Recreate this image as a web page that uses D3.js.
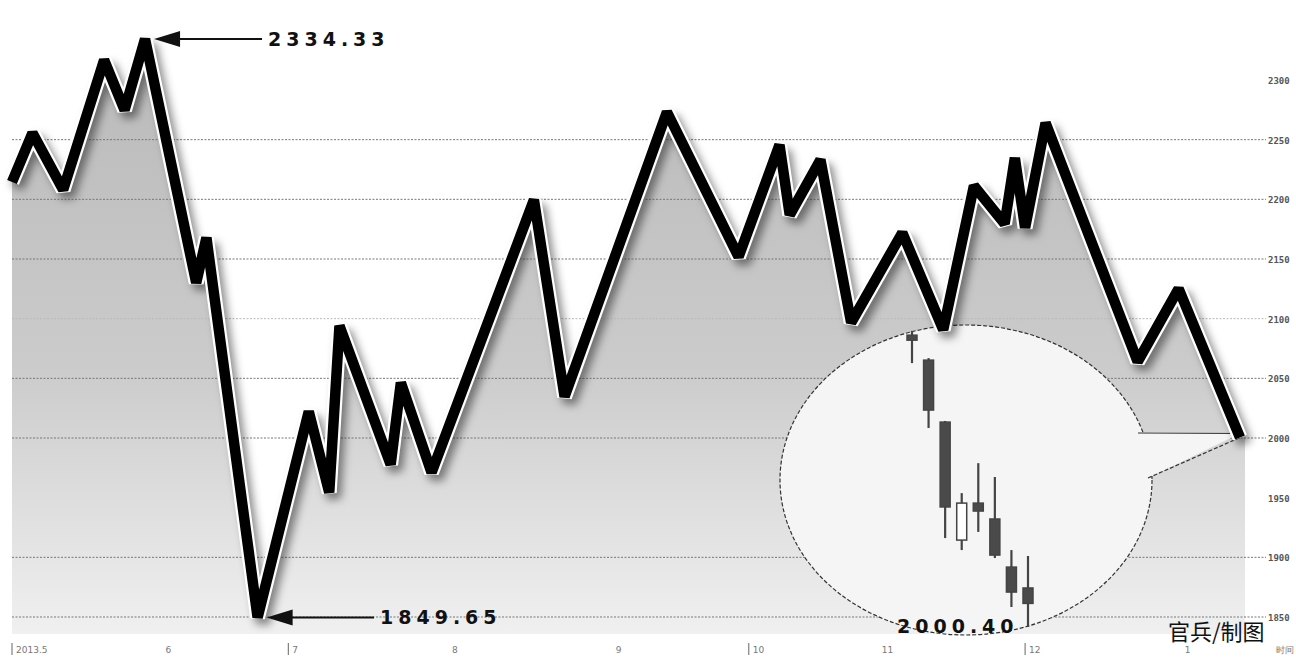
<!DOCTYPE html>
<html>
<head>
<meta charset="utf-8">
<script src="https://cdn.jsdelivr.net/npm/d3@7"></script>
<style>
  body { margin: 0; background: #fff; }
  svg { display: block; }
  .ylab { font-family: "DejaVu Sans Mono", monospace; font-size: 9px; font-weight: bold; fill: #555; }
  .xlab { font-family: "DejaVu Sans", sans-serif; font-size: 9px; fill: #777; }
  .big { font-family: "DejaVu Sans", sans-serif; font-size: 19px; font-weight: bold; letter-spacing: 5px; fill: #111; }
</style>
</head>
<body>
<script>
// index values (trading day, close)
const days = [0, 2, 5, 9, 11, 13, 18, 19, 24, 29, 31, 32, 37, 38, 41, 51, 54, 64, 71, 75, 76, 79, 82, 87, 91, 94, 97, 98, 99, 101, 110, 114, 120];
const closes = [2214.6, 2255.6, 2208, 2316.7, 2274.9, 2334.33, 2130.1, 2167.8, 1849.65, 2022.2, 1954.4, 2094.1, 1977.8, 2046.4, 1971.1, 2199.6, 2034.7, 2273.2, 2151.9, 2245.6, 2187, 2233.1, 2096.7, 2172, 2090.8, 2211.3, 2179.5, 2234.7, 2176.2, 2264, 2064, 2125.1, 2000.40];

const yTicks = [2300, 2250, 2200, 2150, 2100, 2050, 2000, 1950, 1900, 1850];
const gridVals = [2250, 2200, 2150, 2100, 2050, 2000, 1900, 1850];

const xTickDays = [0, 15, 27, 43, 59, 72, 85, 99, 114.6, 123.5];
const xTickLabels = ["2013.5", "6", "7", "8", "9", "10", "11", "12", "1", "时间"];
const xTickBars = [true, false, true, false, false, true, false, true, false, false];

// last few sessions shown in the bubble
const candleOpen  = [2118.6, 2107.6, 2080.3, 2028.3, 2044.6, 2037.6, 2016.4, 2007.2];
const candleClose = [2116.4, 2085.6, 2042.9, 2044.6, 2041.1, 2021.7, 2005.4, 2000.40];
const candleHigh  = [2120.5, 2108.5, 2080.8, 2049.0, 2062.2, 2056.1, 2023.9, 2021.3];
const candleLow   = [2106.3, 2077.7, 2029.2, 2023.9, 2031.9, 2020.4, 1998.8, 1990.0];

const W = 1296, H = 657;
const svg = d3.select("body").append("svg").attr("width", W).attr("height", H);

const x = d3.scaleLinear().domain([0, 120]).range([12, 1240]);
const y = d3.scaleLinear().domain([1850, 2300]).range([617, 80]);
const floorY = 634;

const defs = svg.append("defs");
const grad = defs.append("linearGradient").attr("id", "areaGrad")
    .attr("x1", 0).attr("y1", 0).attr("x2", 0).attr("y2", 1);
grad.append("stop").attr("offset", "0%").attr("stop-color", "#b9b9b9");
grad.append("stop").attr("offset", "55%").attr("stop-color", "#cbcbcb");
grad.append("stop").attr("offset", "100%").attr("stop-color", "#f0f0f0");

const blur = defs.append("filter").attr("id", "shadow")
    .attr("x", "-10%").attr("y", "-10%").attr("width", "120%").attr("height", "120%");
blur.append("feGaussianBlur").attr("stdDeviation", 4);

const pts = days.map((d, i) => [x(d), y(closes[i])]);

// area under the line, running down the right edge
const area = d3.area().x(d => d[0]).y0(floorY).y1(d => d[1]);
const areaPts = pts.concat([[x(120) + 5, y(closes[closes.length - 1])]]);
svg.append("path")
    .attr("d", area(areaPts))
    .attr("fill", "url(#areaGrad)");

// dotted grid
svg.append("g").selectAll("line")
  .data(gridVals)
  .join("line")
    .attr("x1", 12).attr("x2", 1266)
    .attr("y1", d => y(d)).attr("y2", d => y(d))
    .attr("stroke", d => d === 2100 ? "#bbb" : "#777")
    .attr("stroke-width", 1)
    .attr("stroke-dasharray", "2,1.5");

// y labels
svg.append("g").selectAll("text")
  .data(yTicks)
  .join("text")
    .attr("class", "ylab")
    .attr("x", 1268)
    .attr("y", d => y(d) + 4)
    .text(d => d);

// x labels
const xl = svg.append("g");
xl.selectAll("text")
  .data(xTickLabels)
  .join("text")
    .attr("class", "xlab")
    .attr("x", (d, i) => x(xTickDays[i]) + (xTickBars[i] ? 4 : 0))
    .attr("y", 653)
    .text(d => d);
xl.selectAll("line")
  .data(xTickDays.filter((d, i) => xTickBars[i]))
  .join("line")
    .attr("x1", d => x(d)).attr("x2", d => x(d))
    .attr("y1", 643).attr("y2", 655)
    .attr("stroke", "#666");

// bubble with candlesticks
const cx = 966, cy = 480, rx = 186, ry = 155;
const last = pts[pts.length - 1];
const bubble = svg.append("g");
bubble.append("path")
    .attr("d", `M${cx + 172},${cy - 48} L${last[0]},${last[1] - 4} L${cx + 182},${cy - 2} Z`)
    .attr("fill", "#f5f5f5");
bubble.append("ellipse")
    .attr("cx", cx).attr("cy", cy).attr("rx", rx).attr("ry", ry)
    .attr("fill", "#f5f5f5")
    .attr("stroke", "#333").attr("stroke-width", 1.2)
    .attr("stroke-dasharray", "4,2");
bubble.append("rect")
    .attr("x", cx + 160).attr("y", cy - 46).attr("width", 30).attr("height", 42)
    .attr("fill", "#f5f5f5");
bubble.append("line")
    .attr("x1", cx + 172).attr("y1", cy - 47).attr("x2", last[0]).attr("y2", last[1] - 4)
    .attr("stroke", "#333").attr("stroke-width", 1.2);
bubble.append("line")
    .attr("x1", cx + 182).attr("y1", cy - 2).attr("x2", last[0]).attr("y2", last[1])
    .attr("stroke", "#333").attr("stroke-width", 1.2).attr("stroke-dasharray", "4,2");

const cxs = d3.scaleLinear().domain([0, candleOpen.length - 1]).range([912, 1028]);
const cys = d3.scaleLinear().domain([1990, 2120]).range([627, 332]);
const candles = bubble.append("g").selectAll("g")
  .data(candleOpen.map((o, i) => ({o, c: candleClose[i], h: candleHigh[i], l: candleLow[i], i})))
  .join("g");
candles.append("line")
    .attr("x1", d => cxs(d.i)).attr("x2", d => cxs(d.i))
    .attr("y1", d => cys(d.h)).attr("y2", d => cys(d.l))
    .attr("stroke", "#444").attr("stroke-width", 2.2);
candles.append("rect")
    .attr("x", d => cxs(d.i) - 5)
    .attr("y", d => cys(Math.max(d.o, d.c)))
    .attr("width", 10)
    .attr("height", d => Math.max(3, Math.abs(cys(d.o) - cys(d.c))))
    .attr("fill", d => d.c > d.o ? "#fff" : "#4a4a4a")
    .attr("stroke", "#444").attr("stroke-width", 1.5);

// the thick line: shadow, white rim, black core
const line = d3.line();
svg.append("path")
    .attr("d", line(pts))
    .attr("transform", "translate(5,6)")
    .attr("fill", "none").attr("stroke", "#000").attr("stroke-opacity", 0.45)
    .attr("stroke-width", 14).attr("stroke-linejoin", "miter").attr("stroke-miterlimit", 2.2)
    .attr("filter", "url(#shadow)");
svg.append("path")
    .attr("d", line(pts))
    .attr("fill", "none").attr("stroke", "#fff")
    .attr("stroke-width", 15).attr("stroke-linejoin", "miter").attr("stroke-miterlimit", 2.2);
svg.append("path")
    .attr("d", line(pts))
    .attr("fill", "none").attr("stroke", "#000")
    .attr("stroke-width", 10.5).attr("stroke-linejoin", "miter").attr("stroke-miterlimit", 2.2);

// high / low call-outs
function callout(px, py, tx, label) {
  const g = svg.append("g");
  g.append("line")
      .attr("x1", px + 30).attr("y1", py).attr("x2", tx - 6).attr("y2", py)
      .attr("stroke", "#111").attr("stroke-width", 2);
  g.append("path")
      .attr("d", `M${px + 9},${py} L${px + 35},${py - 8} L${px + 35},${py + 8} Z`)
      .attr("fill", "#111");
  g.append("text")
      .attr("class", "big")
      .attr("x", tx).attr("y", py + 7)
      .text(label);
}
const hi = d3.maxIndex(closes), lo = d3.minIndex(closes);
callout(x(days[hi]), y(closes[hi]), 268, closes[hi].toFixed(2));
callout(x(days[lo]), y(closes[lo]), 380, closes[lo].toFixed(2));

svg.append("text")
    .attr("class", "big")
    .attr("x", 897).attr("y", 633)
    .text(closes[closes.length - 1].toFixed(2));

svg.append("text")
    .attr("x", 1168).attr("y", 640)
    .attr("font-family", "Noto Sans CJK SC")
    .attr("font-size", 22)
    .attr("fill", "#111")
    .text("官兵/制图");
</script>
</body>
</html>
